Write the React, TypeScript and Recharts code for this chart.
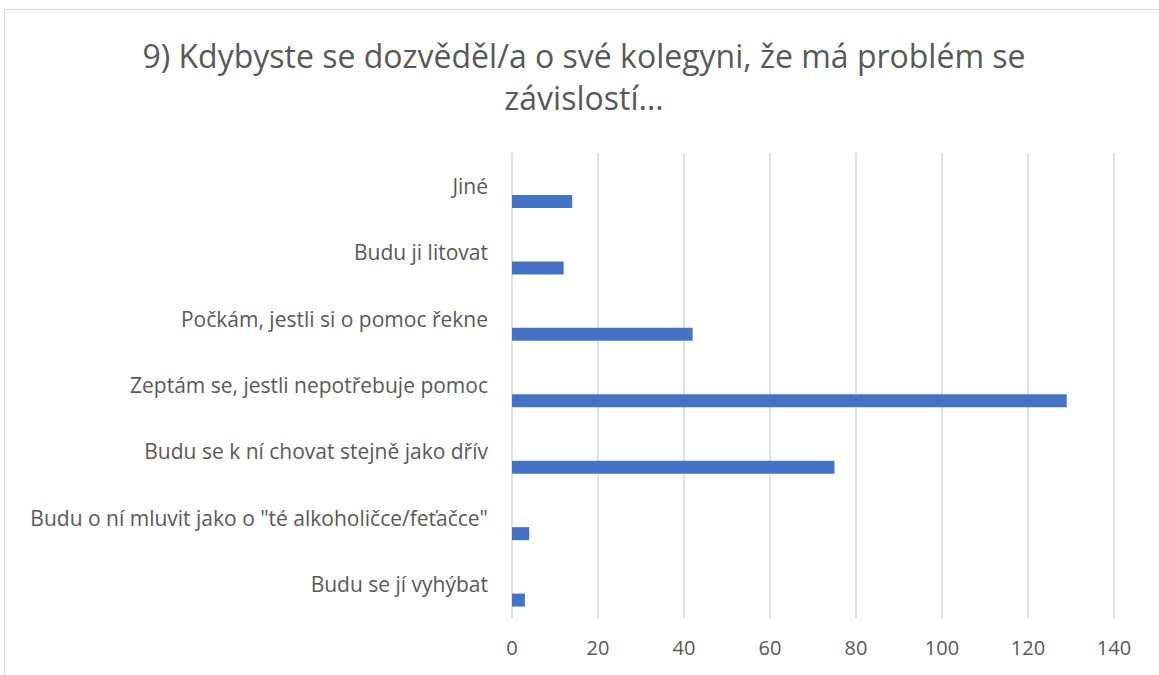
import { BarChart, Bar, XAxis, YAxis, CartesianGrid } from "recharts";

const title1 = "9) Kdybyste se dozvěděl/a o své kolegyni, že má problém se";
const title2 = "závislostí...";

const answers = [
  "Jiné",
  "Budu ji litovat",
  "Počkám, jestli si o pomoc řekne",
  "Zeptám se, jestli nepotřebuje pomoc",
  "Budu se k ní chovat stejně jako dřív",
  'Budu o ní mluvit jako o "té alkoholičce/feťačce"',
  "Budu se jí vyhýbat",
];
const counts = [14, 12, 42, 129, 75, 4, 3];
const xTicks = [0, 20, 40, 60, 80, 100, 120, 140];

const data = answers.map((name, i) => ({ name, blank: null, count: counts[i] }));

const textColor = "#595959";
const font = "'Open Sans', sans-serif";

export default function App() {
  return (
    <div
      style={{
        position: "fixed",
        left: 0,
        top: 0,
        width: 1159,
        height: 675,
        overflow: "hidden",
        background: "#fff",
        fontFamily: font,
      }}
    >
      <div
        style={{
          position: "absolute",
          left: 4,
          top: 9,
          width: 1200,
          height: 700,
          border: "1px solid #d9d9d9",
        }}
      />
      <div
        style={{
          position: "absolute",
          left: 0,
          top: 35,
          width: 1168,
          textAlign: "center",
          fontSize: 32,
          lineHeight: "42px",
          color: textColor,
        }}
      >
        <div>{title1}</div>
        <div>{title2}</div>
      </div>
      <div style={{ position: "absolute", left: 0, top: 0 }}>
        <BarChart
          width={1159}
          height={675}
          data={data}
          layout="vertical"
          margin={{ top: 153, right: 45, bottom: 0, left: 0 }}
          barSize={13}
          barGap={17}
        >
          <CartesianGrid horizontal={false} stroke="#d9d9d9" strokeWidth={1.5} />
          <XAxis
            type="number"
            domain={[0, 140]}
            ticks={xTicks}
            axisLine={false}
            tickLine={false}
            height={57}
            tickMargin={17}
            tick={{ fill: textColor, fontSize: 20, fontFamily: font }}
          />
          <YAxis
            type="category"
            dataKey="name"
            width={512}
            axisLine={false}
            tickLine={false}
            tickMargin={18}
            interval={0}
            tick={{ fill: textColor, fontSize: 21, fontFamily: font }}
          />
          <Bar dataKey="blank" fill="#4472c4" isAnimationActive={false} />
          <Bar dataKey="count" fill="#4472c4" isAnimationActive={false} />
        </BarChart>
      </div>
    </div>
  );
}
